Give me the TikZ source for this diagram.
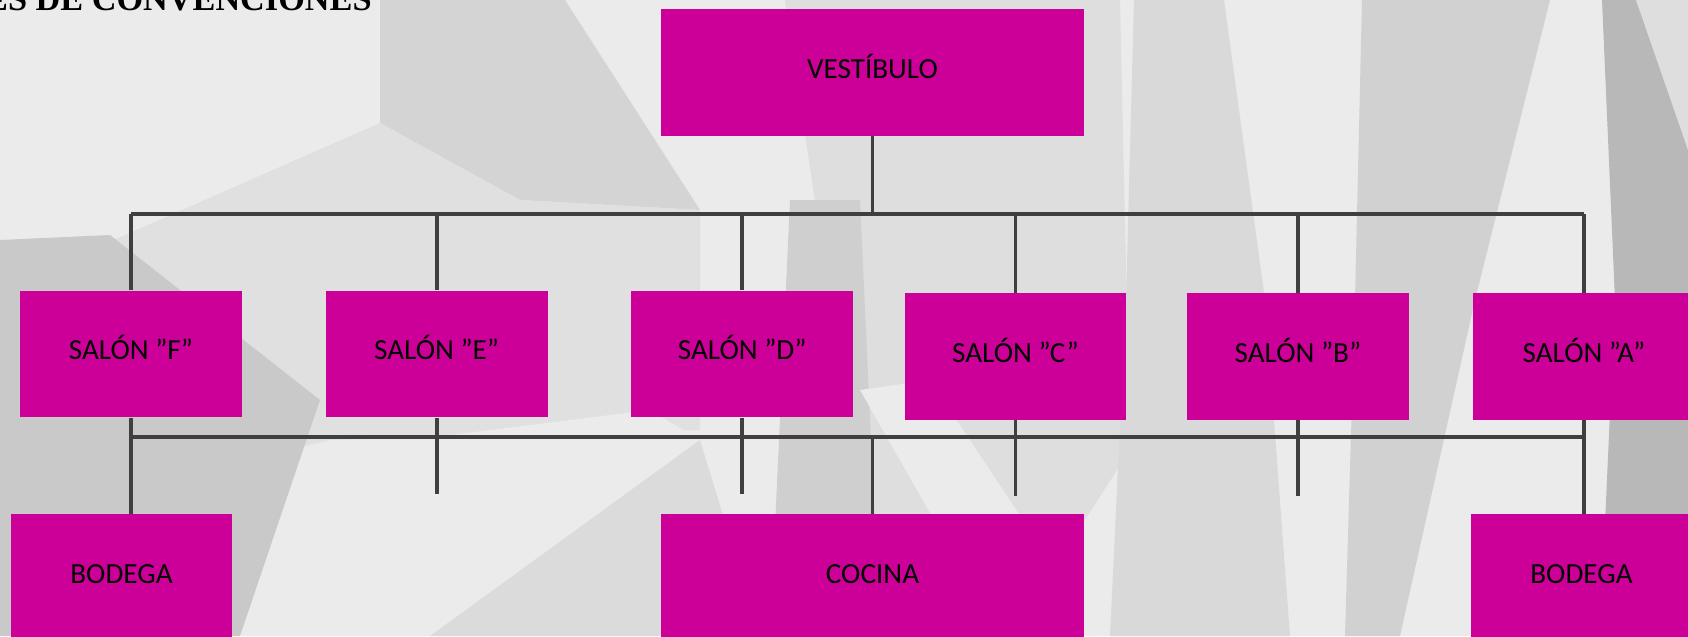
\documentclass[tikz,border=0pt]{standalone}
\usepackage{fontspec}
\setmainfont{Carlito}
\newfontfamily\titlefont{Liberation Serif}
\usetikzlibrary{positioning,calc}
\definecolor{roomPink}{HTML}{CC0099}
\definecolor{wireGrey}{HTML}{3F3F3F}

\begin{document}
\begin{tikzpicture}[x=0.02cm,y=-0.02cm,
   room/.style={fill=roomPink,minimum width=4.44cm,minimum height=2.54cm,
               inner sep=0pt,text height=0.85em,text depth=0.19em,
               font=\fontsize{16.6}{19}\selectfont},
   hall/.style={room,minimum width=8.46cm},
   wire/.style={draw=wireGrey,line width=2.2pt}]
  \useasboundingbox (0,0) rectangle (1688,636);
  % background
  \fill[black!8] (0,0) rectangle (1688,636);
  \fill[black!17] (380,0) -- (565,0) -- (700,210) -- (520,200) -- (380,123) -- cycle;
  \fill[black!12] (0,290) -- (380,123) -- (520,200) -- (700,210) -- (700,430) -- (330,440) -- (0,520) -- cycle;
  \fill[black!21] (0,240) -- (110,235) -- (320,400) -- (240,636) -- (0,636) -- cycle;
  \fill[black!8] (240,636) -- (330,450) -- (650,410) -- (700,440) -- (430,636) -- cycle;
  \fill[black!14] (430,636) -- (700,440) -- (760,636) -- cycle;
  \fill[black!13] (785,0) -- (1120,0) -- (1130,450) -- (1010,636) -- (880,636) -- cycle;
  \fill[black!19] (790,200) -- (860,200) -- (880,636) -- (770,636) -- cycle;
  \fill[black!8] (860,390) -- (930,380) -- (1100,636) -- (1000,636) -- cycle;
  \fill[black!15] (1134,0) -- (1224,0) -- (1265,300) -- (1290,636) -- (1110,636) -- (1126,300) -- cycle;
  \fill[black!18] (1362,0) -- (1550,0) -- (1475,300) -- (1400,636) -- (1345,636) -- (1355,300) -- cycle;
  \fill[black!28] (1602,0) -- (1688,0) -- (1688,636) -- (1600,636) -- (1615,300) -- cycle;
  \fill[black!13] (1636,0) -- (1688,0) -- (1688,150) -- cycle;

  \node[anchor=base east,inner sep=0pt,
        font=\titlefont\bfseries\fontsize{19.5}{22}\selectfont] (title) at (372,10) {ES DE CONVENCIONES};

  \node[hall] (vest) at (872.5,72.5) {VESTÍBULO};
  \node[room] (sF) at (131,354) {SALÓN ”F”};
  \node[room,right=1.66cm of sF] (sE) {SALÓN ”E”};
  \node[room,right=1.66cm of sE] (sD) {SALÓN ”D”};
  \node[room] (sC) at (1015.5,356.5) {SALÓN ”C”};
  \node[room] (sB) at (1298,356.5) {SALÓN ”B”};
  \node[room] (sA) at (1584,356.5) {SALÓN ”A”};
  \node[room] (bF) at (121.5,577.5) {BODEGA};
  \node[hall] (cocina) at (872.5,577.5) {COCINA};
  \node[room] (bA) at (1581.5,577.5) {BODEGA};

  \coordinate (busT) at (0,214);
  \coordinate (busB) at (0,437);
  \draw[wire] (vest.south) -- (vest.south |- busT);
  \draw[wire] (sF.north |- busT) -- (sA.north |- busT);
  \foreach \s in {sF,sE,sD,sC,sB,sA}
    \draw[wire] (\s.north |- busT) -- (\s.north);
  \draw[wire] (sF.south |- busB) -- (sA.south |- busB);
  \draw[wire] (sF.south) -- (sF.south |- bF.north);
  \draw[wire] (sA.south) -- (sA.south |- bA.north);
  \draw[wire] (cocina.north |- busB) -- (cocina.north);
  \foreach \s in {E,D,C,B}
    \draw[wire] (s\s.south) -- ++(0,76) coordinate (t\s);
\end{tikzpicture}
\end{document}
